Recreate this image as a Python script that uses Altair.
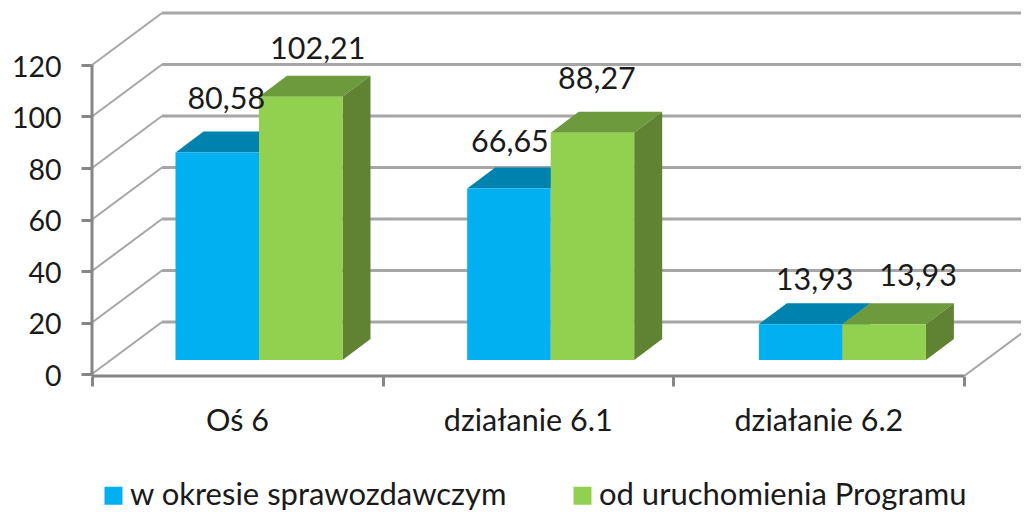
import altair as alt
import pandas as pd

categories = ["Oś 6", "działanie 6.1", "działanie 6.2"]
series = ["w okresie sprawozdawczym", "od uruchomienia Programu"]
values_period = [80.58, 66.65, 13.93]
values_total = [102.21, 88.27, 13.93]
label_text_period = ["80,58", "66,65", "13,93"]
label_text_total = ["102,21", "88,27", "13,93"]
y_ticks = [0, 20, 40, 60, 80, 100, 120]
# manual label nudges seen in the picture (pixels)
nudge_x_period = [9, 1, 14]
nudge_x_total = [17, 4.5, 34]
nudge_y_period = [44, 36, 34]
nudge_y_total = [38, 44, 38]

PX_X, PX_Y = 290.7, 2.575
W, H = 929, 368
Y_MIN = -2 / PX_Y
Y_MAX = Y_MIN + H / PX_Y
X_MAX = W / PX_X
WALL_DX, WALL_DY = 70 / PX_X, 52 / PX_Y
BAR_DX, BAR_DY = 28 / PX_X, 21 / PX_Y
BASE = 14 / PX_Y
BAR_W = 83.5 / PX_X
BAR_L = 83.5 / PX_X
BAR_STEP = 291.7 / PX_X

FONT = "Lato"
FS = 30.5
FS_Y = 28.5
FS_LEG = 31
TXT = "#1a1a1a"
AXIS_C, GRID_C = "#868686", "#a6a6a6"
COLORS = ["#00B0F0", "#92D050"]
TOP_C = ["#0082AF", "#6D9A3C"]
SIDE_C = ["#0082AF", "#5F8233"]

bars, faces, labels = [], [], []
for s, (name, vals, texts, nx, ny) in enumerate([
    (series[0], values_period, label_text_period, nudge_x_period, nudge_y_period),
    (series[1], values_total, label_text_total, nudge_x_total, nudge_y_total),
]):
    for c, v in enumerate(vals):
        L = c * BAR_STEP + BAR_L + s * BAR_W
        R = L + BAR_W
        T = BASE + v
        bars.append(dict(series=name, s=s, x=L, x2=R, y=BASE, y2=T))
        labels.append(dict(t=texts[c], x=(L + R) / 2 + nx[c] / PX_X, y=T + ny[c] / PX_Y))
        pid = f"{s}-{c}"
        for px, py, py2 in [(L, T, T), (L + BAR_DX, T + BAR_DY, T),
                            (R, T + BAR_DY, T), (R + BAR_DX, T + BAR_DY, T + BAR_DY)]:
            faces.append(dict(pid=pid + "t", s=s, kind="top", x=px, y=py, y2=py2))
        for px, py, py2 in [(R, T, BASE), (R + BAR_DX, T + BAR_DY, BASE + BAR_DY)]:
            faces.append(dict(pid=pid + "s", s=s, kind="side", x=px, y=py, y2=py2))

bars = pd.DataFrame(bars)
faces = pd.DataFrame(faces)
labels = pd.DataFrame(labels)

xs = alt.Scale(domain=[0, X_MAX], range=[0, W], nice=False, zero=False)
ys = alt.Scale(domain=[Y_MIN, Y_MAX], range=[H, 0], nice=False, zero=False)
lab = "[" + ",".join(f"'{c}'" for c in categories) + ",''][datum.value]"
x_axis = alt.Axis(values=[0, 1, 2, 3], labelExpr=lab, labelOffset=145, labelBound=False, labelFlush=False,
                  title=None, grid=False, domain=False, tickColor=AXIS_C, tickWidth=3, tickSize=10,
                  labelFont=FONT, labelFontSize=FS, labelColor=TXT, labelPadding=20, labelAngle=0)
y_axis = alt.Axis(values=y_ticks, title=None, grid=False, domain=False, tickColor=AXIS_C, tickWidth=3, tickSize=11,
                  labelFont=FONT, labelFontSize=FS_Y, labelColor=TXT, labelPadding=20, labelOffset=2)
X = alt.X("x:Q", scale=xs, axis=x_axis)
Y = alt.Y("y:Q", scale=ys, axis=y_axis)

wall = pd.DataFrame({"v": y_ticks})
wall["x"] = WALL_DX
wall["x2"] = X_MAX
wall["y"] = wall["v"] + WALL_DY
wall["fx"] = 0.0
wall["fy"] = wall["v"].astype(float)
h_lines = alt.Chart(wall).mark_rule(color=GRID_C, strokeWidth=3).encode(x=X, x2="x2:Q", y=Y)
d_lines = alt.Chart(wall).mark_rule(color=GRID_C, strokeWidth=2).encode(
    x=alt.X("fx:Q", scale=xs, axis=x_axis), x2="x:Q", y=alt.Y("fy:Q", scale=ys, axis=y_axis), y2="y:Q")
floor_r = alt.Chart(pd.DataFrame({"x": [3.0], "x2": [3 + WALL_DX], "y": [Y_MIN], "y2": [WALL_DY + Y_MIN]})).mark_rule(
    color=GRID_C, strokeWidth=2, clip=True).encode(x=X, x2="x2:Q", y=Y, y2="y2:Q")
y_line = alt.Chart(pd.DataFrame({"x": [0.0], "y": [Y_MIN], "y2": [120.0]})).mark_rule(color=AXIS_C, strokeWidth=3).encode(
    x=X, y=Y, y2="y2:Q")
x_line = alt.Chart(pd.DataFrame({"x": [0.0], "x2": [3.0], "y": [Y_MIN]})).mark_rule(color=AXIS_C, strokeWidth=3).encode(
    x=X, x2="x2:Q", y=Y)


def faces_layer(s, kind, color):
    d = faces[(faces.s == s) & (faces.kind == kind)]
    return alt.Chart(d).mark_area(color=color, orient="vertical", interpolate="linear").encode(
        x=X, y=Y, y2="y2:Q", detail="pid:N")


def front(s):
    d = bars[bars.s == s]
    return alt.Chart(d).mark_rect().encode(
        x=X, x2="x2:Q", y=Y, y2="y2:Q",
        color=alt.Color("series:N", scale=alt.Scale(domain=series, range=COLORS),
                        legend=alt.Legend(title=None, orient="none", legendX=6, legendY=472, direction="horizontal",
                                          symbolType="square", symbolSize=324, symbolStrokeWidth=0, symbolOpacity=1,
                                          labelFont=FONT, labelFontSize=FS_LEG, labelColor=TXT, labelLimit=500,
                                          columnPadding=59, columns=2, labelOffset=1, symbolOffset=0)))


text = alt.Chart(labels).mark_text(font=FONT, fontSize=FS, color=TXT, baseline="alphabetic", align="center").encode(
    x=X, y=Y, text="t:N")

layers = [h_lines, d_lines, floor_r, y_line, x_line]
for s in (0, 1):
    layers += [faces_layer(s, "top", TOP_C[s]), faces_layer(s, "side", SIDE_C[s]), front(s)]
layers.append(text)

chart = alt.layer(*layers).properties(
    width=W, height=H,
    padding={"left": 84, "top": 0, "right": 0, "bottom": 136},
    autosize=alt.AutoSizeParams(type="none"),
    background="white",
).configure_view(stroke=None)

chart.save("out.html", embed_options={"renderer": "svg", "actions": False})
